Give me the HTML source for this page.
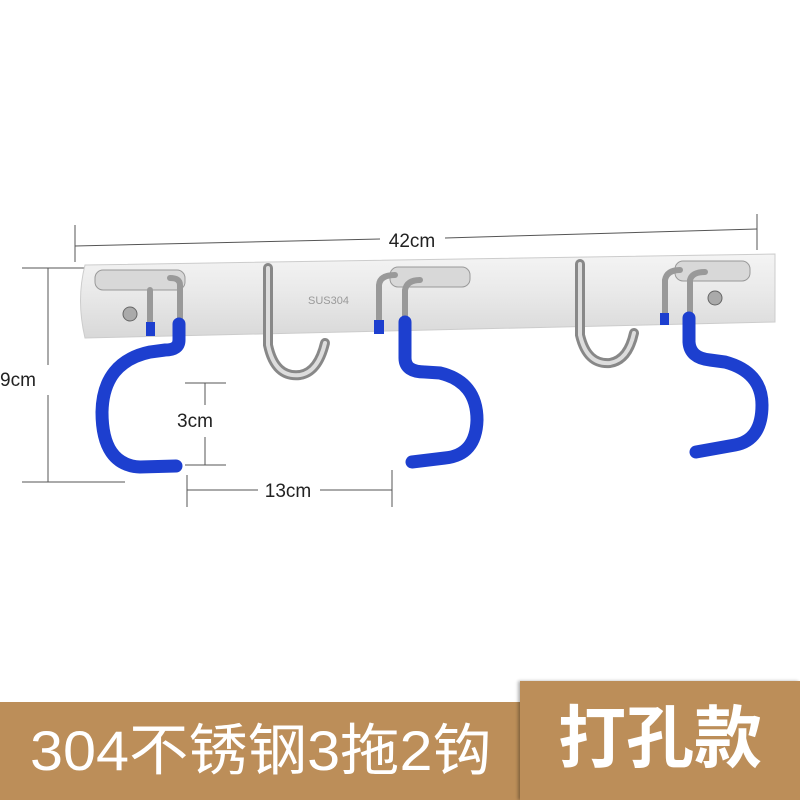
<!DOCTYPE html>
<html><head><meta charset="utf-8"><style>
html,body{margin:0;padding:0;background:#fff;width:800px;height:800px;overflow:hidden}
svg{position:absolute;left:0;top:0}
.b{position:absolute;background:#bc8e59;color:#fff;font-family:"Liberation Sans","Noto Sans CJK SC",sans-serif;white-space:nowrap}
.b span{display:inline-block;transform-origin:0 50%}
</style></head><body>
<svg width="800" height="800" viewBox="0 0 800 800">
<defs>
<linearGradient id="pl" x1="0" y1="0" x2="0" y2="1">
<stop offset="0" stop-color="#f4f4f4"/><stop offset="0.5" stop-color="#e8e8e8"/><stop offset="1" stop-color="#d8d8d8"/></linearGradient>
</defs>
<g stroke="#555" stroke-width="1" fill="none">
<line x1="75" y1="246" x2="380" y2="239"/><line x1="445" y1="238" x2="757" y2="229"/>
<line x1="75" y1="225" x2="75" y2="262"/><line x1="757" y1="214" x2="757" y2="250"/>
<line x1="48" y1="268" x2="48" y2="365"/><line x1="48" y1="395" x2="48" y2="482"/>
<line x1="22" y1="268" x2="95" y2="268"/><line x1="22" y1="482" x2="125" y2="482"/>
<line x1="205" y1="383" x2="205" y2="405"/><line x1="205" y1="437" x2="205" y2="465"/>
<line x1="185" y1="383" x2="226" y2="383"/><line x1="185" y1="465" x2="226" y2="465"/>
<line x1="187" y1="490" x2="258" y2="490"/><line x1="320" y1="490" x2="392" y2="490"/>
<line x1="187" y1="475" x2="187" y2="507"/><line x1="392" y1="470" x2="392" y2="507"/>
</g>
<g font-family="Liberation Sans,sans-serif" font-size="19" fill="#222">
<text x="412" y="247" text-anchor="middle">42cm</text>
<text x="0" y="386">9cm</text>
<text x="177" y="427">3cm</text>
<text x="288" y="497" text-anchor="middle">13cm</text>
</g>
<path d="M85 265 L775 254 L775 322 L85 338 Q76 300 85 265Z" fill="url(#pl)" stroke="#ccc"/>
<text x="308" y="304" font-family="Liberation Sans,sans-serif" font-size="11" fill="#999">SUS304</text>
<g fill="#d8d8d8" stroke="#999">
<rect x="95" y="270" width="90" height="20" rx="8"/><rect x="390" y="267" width="80" height="20" rx="8"/><rect x="675" y="261" width="75" height="20" rx="8"/>
</g>
<circle cx="130" cy="314" r="7" fill="#aaa" stroke="#666"/><circle cx="715" cy="298" r="7" fill="#aaa" stroke="#666"/>
<g fill="none" stroke-linecap="round">
<path d="M268 268 L268 345 Q275 378 300 375 Q318 372 325 343" stroke="#888" stroke-width="10"/>
<path d="M268 268 L268 345 Q275 378 300 375 Q318 372 325 343" stroke="#ddd" stroke-width="4"/>
<path d="M580 264 L580 335 Q587 365 610 363 Q628 360 634 333" stroke="#888" stroke-width="10"/>
<path d="M580 264 L580 335 Q587 365 610 363 Q628 360 634 333" stroke="#ddd" stroke-width="4"/>
<path d="M150 323 L150 290 M180 325 L180 285 Q180 278 170 278 M379 322 L379 285 Q380 275 395 275 M405 322 L405 290 Q407 280 420 280 M665 315 L665 280 Q667 270 680 270 M690 315 L690 280 Q692 272 705 272" stroke="#999" stroke-width="6"/>
</g>
<g fill="#1d3fcf">
<rect x="146" y="322" width="9" height="14"/><rect x="374" y="320" width="10" height="14"/><rect x="660" y="313" width="9" height="12"/>
</g>
<g fill="none" stroke="#1d3fcf" stroke-width="13" stroke-linecap="round">
<path d="M179 324 L179 340 Q179 350 165 350 L150 352 Q103 362 102 412 Q102 465 140 467 L176 466"/>
<path d="M405 322 L405 358 Q405 372 425 372 L440 373 Q477 382 477 420 Q476 455 445 458 L412 462"/>
<path d="M689 318 L689 342 Q690 358 710 360 L725 362 Q762 372 762 405 Q762 440 735 445 L696 452"/>
</g>
</svg>
<div class="b" style="left:0;top:702px;width:520px;height:98px;font-size:56px;line-height:98px;padding-left:30px;box-sizing:border-box"><span style="transform:scaleX(1.06)">304不锈钢3拖2钩</span></div>
<div class="b" style="left:520px;top:681px;width:280px;height:119px;font-size:68px;font-weight:bold;line-height:116px;padding-left:38px;box-sizing:border-box;box-shadow:-2px 0 3px rgba(0,0,0,.3)">打孔款</div>
</body></html>
